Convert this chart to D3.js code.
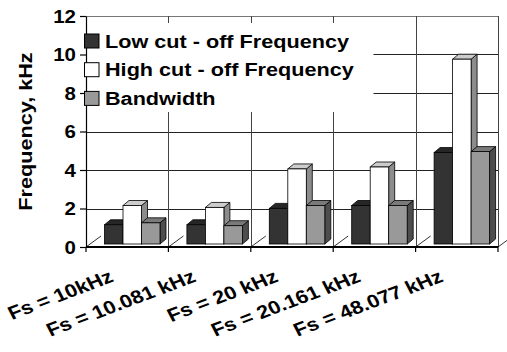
<!DOCTYPE html>
<html><head><meta charset="utf-8">
<script src="https://cdn.jsdelivr.net/npm/d3@7"></script>
<style>
html,body{margin:0;padding:0;background:#fff;}
svg text{font-family:"Liberation Sans",Arial,sans-serif;font-weight:bold;fill:#000;}
</style></head>
<body>
<svg id="c" width="507" height="352"></svg>
<script>
const categories = ["Fs = 10kHz", "Fs = 10.081 kHz", "Fs = 20 kHz", "Fs = 20.161 kHz", "Fs = 48.077 kHz"];
const seriesNames = ["Low cut - off Frequency", "High cut - off Frequency", "Bandwidth"];
const lowCut = [1.0, 1.0, 1.85, 2.0, 4.75];
const highCut = [2.0, 1.9, 3.9, 4.0, 9.6];
const bandwidth = [1.1, 0.95, 2.0, 2.0, 4.8];
const yTicks = [0, 2, 4, 6, 8, 10, 12];
const yTitle = "Frequency, kHz";

const seriesValues = [lowCut, highCut, bandwidth];
const faceColors = [
  {front:"#333333", top:"#262626", side:"#1a1a1a"},
  {front:"#ffffff", top:"#cccccc", side:"#8c8c8c"},
  {front:"#999999", top:"#7a7a7a", side:"#4d4d4d"}
];
const SX = 1.17;

const svg = d3.select("#c");
const y = d3.scaleLinear().domain([0, 12]).range([247, 16]);
const x = d3.scaleBand().domain(categories).range([86, 498]);
const xs = d3.scaleBand().domain(seriesNames).range([0, 55.5]);
const DX = 6, DY = -5, BDY = -3;

// gridlines
const grid = svg.append("g");
yTicks.filter(t => t > 0).forEach(t => {
  grid.append("line").attr("x1", 86).attr("x2", 498).attr("y1", Math.round(y(t)) + 0.5).attr("y2", Math.round(y(t)) + 0.5)
    .attr("stroke", t === 12 ? "#777" : "#222").attr("stroke-width", 1);
});
const bounds = categories.map(c => x(c)).concat([x.range()[1]]);
bounds.slice(1).forEach(b => {
  grid.append("line").attr("x1", Math.round(b) + 0.5).attr("x2", Math.round(b) + 0.5).attr("y1", y(12)).attr("y2", y(0))
    .attr("stroke", "#444").attr("stroke-width", 1);
});
// floor depth lines
bounds.forEach(b => {
  grid.append("line").attr("x1", b).attr("y1", y(0)).attr("x2", b + 15).attr("y2", y(0) - 11)
    .attr("stroke", "#000").attr("stroke-width", 0.8);
});

// bars
const bars = svg.append("g");
categories.forEach((c, i) => {
  seriesNames.forEach((s, j) => {
    const v = seriesValues[j][i];
    const x0 = x(c) + 18.5 + xs(s);
    const x1 = x0 + xs.bandwidth();
    const top = y(v) + BDY, bot = y(0) + BDY;
    const col = faceColors[j];
    bars.append("polygon").attr("points", [[x1, top], [x1 + DX, top + DY], [x1 + DX, bot + DY], [x1, bot]].join(" "))
      .attr("fill", col.side).attr("stroke", "#000").attr("stroke-width", 0.8).attr("stroke-linejoin", "round");
    bars.append("polygon").attr("points", [[x0, top], [x0 + DX, top + DY], [x1 + DX, top + DY], [x1, top]].join(" "))
      .attr("fill", col.top).attr("stroke", "#000").attr("stroke-width", 0.8).attr("stroke-linejoin", "round");
    bars.append("rect").attr("x", x0).attr("y", top).attr("width", x1 - x0).attr("height", bot - top)
      .attr("fill", col.front).attr("stroke", "#000").attr("stroke-width", 0.8);
  });
});

// legend background
svg.append("rect").attr("x", 86.5).attr("y", 23).attr("width", 287).attr("height", 89).attr("fill", "#fff");

// y axis
const yAxis = svg.append("g").attr("transform", "translate(86,0)")
  .call(d3.axisLeft(y).tickValues(yTicks).tickSize(6).tickSizeOuter(0));
yAxis.attr("font-family", null).attr("font-size", null);
yAxis.select(".domain").attr("stroke", "#000").attr("stroke-width", 1.2);
yAxis.selectAll(".tick line").attr("stroke", "#000").attr("stroke-width", 1.2);
yAxis.selectAll(".tick text").attr("font-size", 17.5).attr("x", -10 / SX).attr("dy", "0.36em")
  .attr("transform", `scale(${SX},1)`);

// legend
const leg = svg.append("g");
seriesNames.forEach((s, j) => {
  const cy = 41 + j * 28.7;
  leg.append("rect").attr("x", 84.5).attr("y", cy - 7).attr("width", 14.5).attr("height", 14)
    .attr("fill", faceColors[j].front).attr("stroke", "#000").attr("stroke-width", 1);
  leg.append("text").attr("transform", `translate(105,${cy + 6.5}) scale(${SX},1)`)
    .attr("font-size", 18.5).text(s);
});

// x axis
svg.append("line").attr("x1", 86).attr("x2", 498).attr("y1", y(0)).attr("y2", y(0)).attr("stroke", "#000").attr("stroke-width", 2);
bounds.forEach(b => {
  svg.append("line").attr("x1", b).attr("x2", b).attr("y1", y(0)).attr("y2", y(0) + 5).attr("stroke", "#000").attr("stroke-width", 1.2);
});
// rotated labels, then stretched horizontally on screen
const ang = -24 * Math.PI / 180;
const ma = SX * Math.cos(ang), mb = Math.sin(ang), mc = -SX * Math.sin(ang), md = Math.cos(ang);
const xl = svg.append("g");
categories.forEach(c => {
  const cx = x(c) + x.bandwidth() / 2 - 12.5;
  xl.append("text").attr("text-anchor", "end").attr("font-size", 18.5)
    .attr("transform", `matrix(${ma},${mb},${mc},${md},${cx},281)`).text(c);
});

// y title
svg.append("text").attr("transform", `translate(32,131.5) rotate(-90) scale(${SX},1)`)
  .attr("text-anchor", "middle").attr("font-size", 18.5).text(yTitle);
</script>
</body></html>
